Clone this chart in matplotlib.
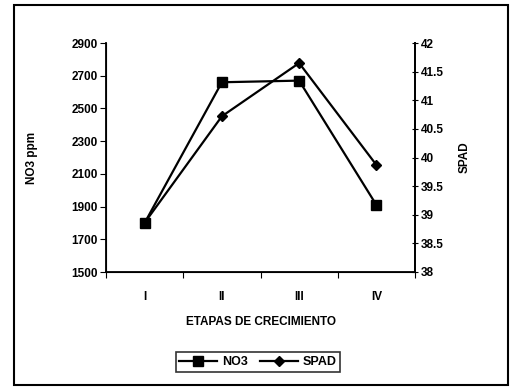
import matplotlib.pyplot as plt
from matplotlib.patches import Rectangle

plt.rcParams['font.family'] = ['Liberation Sans', 'DejaVu Sans']
plt.rcParams['font.weight'] = 'bold'

etapas = ['I', 'II', 'III', 'IV']
no3 = [1800, 2660, 2670, 1910]
spad = [38.86, 40.72, 41.65, 39.87]

fig = plt.figure(figsize=(5.13, 3.9), dpi=100)
ax = fig.add_axes([106/513, 118/390, 309/513, 229/390])
x = list(range(len(etapas)))

l1 = ax.plot(x, no3, color='black', lw=1.6, marker='s', ms=6.5, label='NO3')
ax.set_ylim(1500, 2900)
ax.set_yticks(range(1500, 2901, 200))
ax.set_xlim(-0.5, 3.5)
ax.set_xticks([-0.5, 0.5, 1.5, 2.5, 3.5])
ax.set_xticklabels([])
ax.set_xticks(x, minor=True)
ax.set_xticklabels(etapas, minor=True)
ax.tick_params(axis='x', which='minor', length=0, pad=14, labelsize=8.5)
ax.tick_params(axis='x', which='major', length=4, direction='out')
ax.tick_params(axis='y', labelsize=8.5, length=4, direction='out', pad=2)
ax.spines['top'].set_visible(False)
for s in ax.spines.values():
    s.set_linewidth(1.3)

ax2 = ax.twinx()
l2 = ax2.plot(x, spad, color='black', lw=1.6, marker='D', ms=5, label='SPAD')
ax2.set_ylim(38, 42)
ax2.set_yticks([38, 38.5, 39, 39.5, 40, 40.5, 41, 41.5, 42])
ax2.set_yticklabels(['38', '38.5', '39', '39.5', '40', '40.5', '41', '41.5', '42'])
ax2.tick_params(axis='y', labelsize=8.5, length=5, direction='inout', pad=2)
ax2.spines['top'].set_visible(False)
ax2.spines['right'].set_linewidth(1.3)

ax.set_ylabel('NO3 ppm', fontsize=8.5, fontweight='bold', labelpad=24)
ax2.set_ylabel('SPAD', fontsize=8.5, fontweight='bold', rotation=90, labelpad=10)
ax.set_xlabel('ETAPAS DE CRECIMIENTO', fontsize=8.5, fontweight='bold', labelpad=9)

lines = l1 + l2
leg = fig.legend(lines, [l.get_label() for l in lines], loc='center',
                 bbox_to_anchor=(258/513, 1 - 362/390), ncol=2, frameon=True,
                 fancybox=False, edgecolor='black', fontsize=9,
                 handlelength=3, columnspacing=1.0, borderpad=0.3, handletextpad=0.4)
leg.get_frame().set_linewidth(1.2)

fig.patches.append(Rectangle((14/513, 5/390), 494/513, 380/390, transform=fig.transFigure,
                             fill=False, edgecolor='black', lw=1.5))

fig.savefig('out.png', dpi=100)
